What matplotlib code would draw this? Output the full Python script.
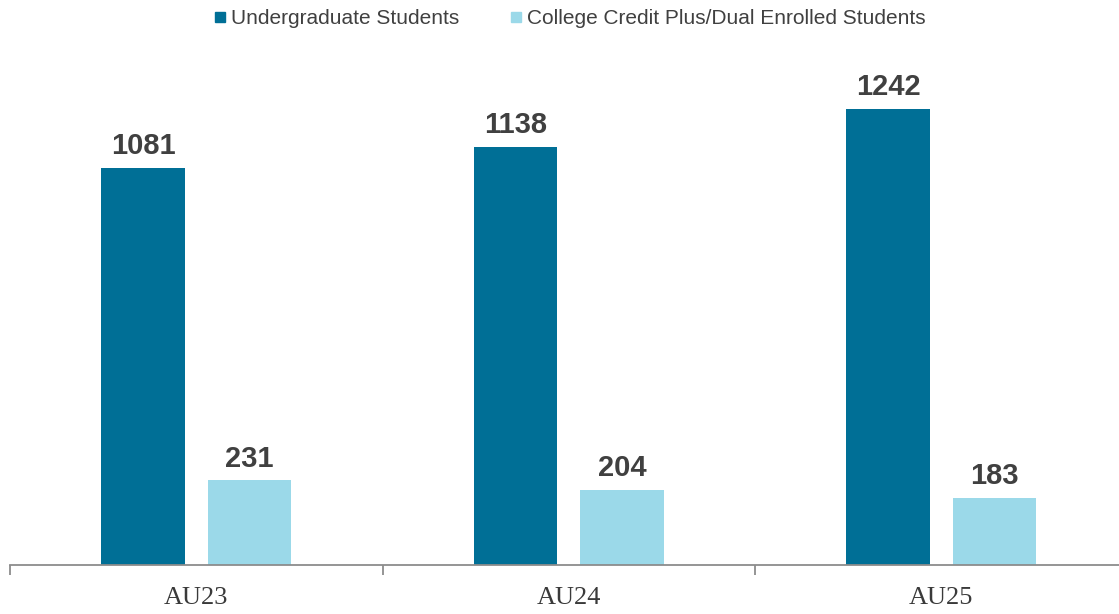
#!/usr/bin/env python3

"""Autumn enrollment by student type, grouped bars."""

import matplotlib.pyplot as plt
from matplotlib.lines import Line2D
import numpy as np

terms = ['AU23', 'AU24', 'AU25']
undergrad = [1081, 1138, 1242]
dual_enrolled = [231, 204, 183]
series_names = ['Undergraduate Students',
                'College Credit Plus/Dual Enrolled Students']

DARK = '#006f96'
LIGHT = '#9bd9e9'
TEXT = '#404040'


def main():
    fig = plt.figure(figsize=(11.19, 6.14), dpi=100)
    # Axes runs a little past the right edge so the last tick falls off-canvas.
    ax = fig.add_axes([10 / 1119, (614 - 565) / 614, 1117.5 / 1119, 565 / 614])

    x = np.arange(len(terms))
    width = 0.225
    offset = 0.143
    b1 = ax.bar(x - offset, undergrad, width, color=DARK)
    b2 = ax.bar(x + offset, dual_enrolled, width, color=LIGHT)

    for bars, vals in ((b1, undergrad), (b2, dual_enrolled)):
        for rect, v in zip(bars, vals):
            ax.annotate(str(v), (rect.get_x() + rect.get_width() / 2, v),
                        xytext=(0, 5.5), textcoords='offset points',
                        ha='center', va='bottom', fontsize=21,
                        fontweight='bold', color=TEXT,
                        family='Liberation Sans')

    ax.set_xlim(-0.5, 2.5)
    ax.set_ylim(0, 1538)

    for side in ('top', 'right', 'left'):
        ax.spines[side].set_visible(False)
    ax.spines['bottom'].set_color('#8c8c8c')
    ax.spines['bottom'].set_linewidth(1.3)
    ax.set_yticks([])

    # Category labels in the middle, tick marks on the group boundaries.
    ax.set_xticks(x)
    ax.set_xticklabels(terms, family='Liberation Serif', fontsize=19,
                       color='#3a3a3a')
    ax.tick_params(axis='x', which='major', length=0, pad=16)
    ax.set_xticks(np.arange(-0.5, len(terms)), minor=True)
    ax.tick_params(axis='x', which='minor', length=7, width=1.3,
                   color='#8c8c8c', direction='out')

    handles = [Line2D([], [], marker='s', linestyle='none', markersize=7.5,
                      color=c) for c in (DARK, LIGHT)]
    fig.legend(handles, series_names, loc='center',
               bbox_to_anchor=(569 / 1119, 1 - 19 / 614), ncol=2,
               frameon=False, handletextpad=0.2, columnspacing=2.35,
               handlelength=0.7,
               prop={'family': 'Liberation Sans', 'size': 15},
               labelcolor=TEXT)

    fig.savefig('out.png', dpi=100)


if __name__ == '__main__':
    main()
